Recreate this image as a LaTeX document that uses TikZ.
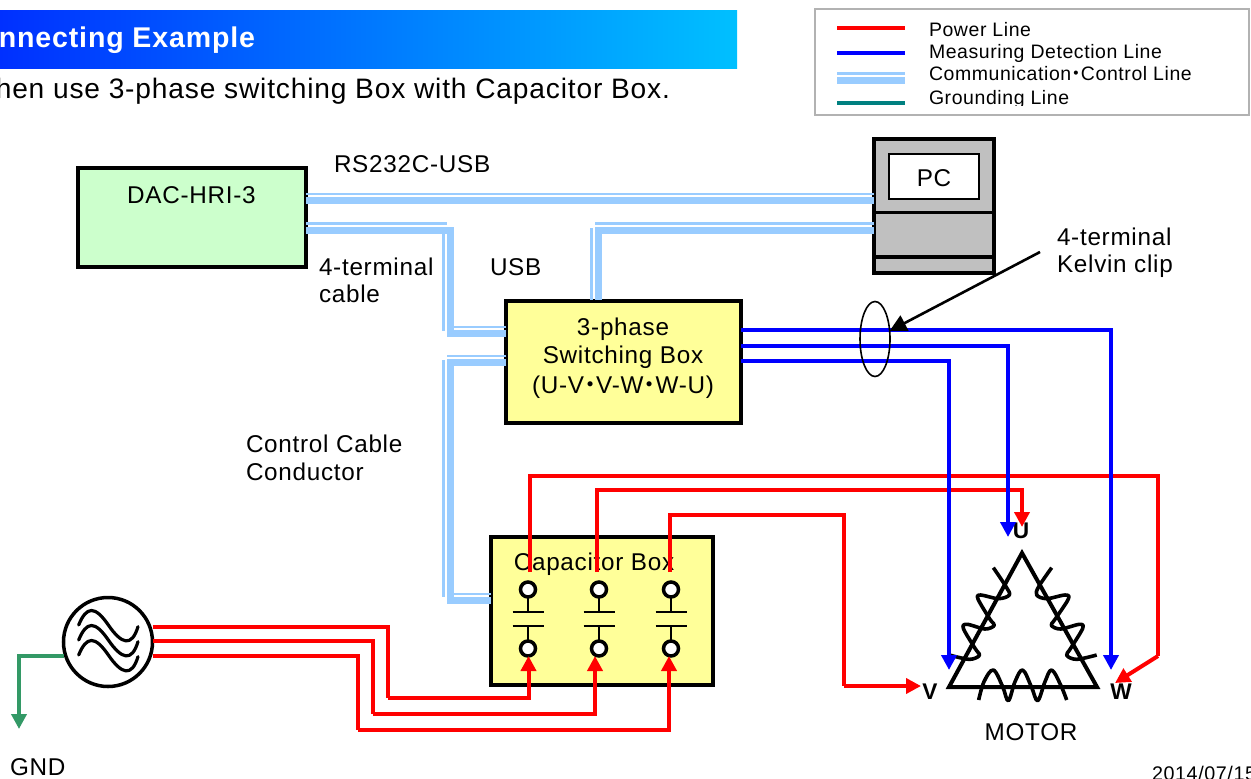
\documentclass[tikz,border=0pt]{standalone}
\usepackage{fontspec}
\setmainfont[LetterSpace=3]{Liberation Sans}
\newfontfamily\cjkdot{Noto Sans CJK JP}
\usetikzlibrary{arrows.meta,calc,shapes.geometric}
\def\px{0.75pt}
\newcommand{\mdot}{{\cjkdot\bfseries ･}}
\definecolor{comm}{HTML}{99CCFF}
\definecolor{pw}{HTML}{FF0000}
\definecolor{ms}{HTML}{0000FF}
\definecolor{gndc}{HTML}{339966}
\definecolor{tealc}{HTML}{008080}
\definecolor{headL}{HTML}{0030FF}
\definecolor{headR}{HTML}{00C0FF}
\definecolor{dacg}{HTML}{CCFFCC}
\definecolor{boxy}{HTML}{FFFF99}
\definecolor{pcg}{HTML}{C0C0C0}
\tikzset{
 boxn/.style={draw=black,line width=3.5*\px,inner sep=0pt,outer sep=0pt,rectangle},
 txt/.style={inner sep=0pt,outer sep=0pt,font=\fontsize{18.2pt}{21pt}\selectfont,text=black},
 legendt/.style={inner sep=0pt,outer sep=0pt,anchor=west,font=\fontsize{14.6pt}{17pt}\selectfont},
 power/.style={draw=pw,line width=4*\px,line join=miter},
 measure/.style={draw=ms,line width=4*\px},
 powerarrow/.style={power,-{Triangle[length=15*\px,width=15*\px]}},
 measarrow/.style={measure,-{Triangle[length=15*\px,width=15*\px]}},
 thickc/.style={draw=comm,line width=7*\px},
 thinc/.style={draw=comm,line width=2.5*\px},
 termn/.style={circle,draw=black,fill=white,line width=3.5*\px,minimum size=15*\px,inner sep=0pt,outer sep=0pt},
 wire/.style={draw=black,line width=1.6*\px},
 coil/.style={draw=black,line width=3.6*\px,line join=round},
}
\begin{document}
\begin{tikzpicture}[x=0.75pt,y=-0.75pt]
\useasboundingbox (0,0) rectangle (1251,778);
\fill[white] (0,0) rectangle (1251,778);
% header
\shade[left color=headL,right color=headR] (0,10) rectangle (737,68);
\node[txt,anchor=east,font=\fontsize{21.4pt}{24pt}\selectfont\bfseries,text=white] (head) at (255,40) {nnecting Example};
\node[txt,anchor=east,font=\fontsize{21.1pt}{25pt}\selectfont] (sub) at (670,91) {hen use 3-phase switching Box with Capacitor Box.};
% legend
\node[draw=black!30,line width=1.3*\px,minimum width=434*\px,minimum height=106*\px,inner sep=0pt,outer sep=0pt] (legend) at (1032,62) {};
\coordinate (la) at (837,28); \coordinate (lb) at (905,28);
\draw[draw=pw,line width=3.5*\px] (la) -- (lb);
\draw[draw=ms,line width=3.5*\px] (837,53) coordinate (lc) -- (905,53) coordinate (ld);
\draw[thinc] (837,73.5) coordinate (le) -- (905,73.5) coordinate (lf);
\draw[thickc] (837,80.5) coordinate (lg) -- (905,80.5) coordinate (lh);
\draw[draw=tealc,line width=3.5*\px] (837,103) coordinate (li) -- (905,103) coordinate (lj);
\node[legendt] (l1) at (929,29.5) {Power Line};
\node[legendt] (l2) at (929,53) {Measuring Detection Line};
\node[legendt] (l3) at (929,74) {Communication\mdot Control Line};
\begin{scope}
\clip (920,84) rectangle (1240,105.5);
\node[legendt] (l4) at (929,99.5) {Grounding Line};
\end{scope}
% boxes
\node[boxn,fill=dacg,minimum width=228*\px,minimum height=99*\px] (dac) at (192,217.5) {};
\node[txt] (dact) at (191.5,195.5) {DAC-HRI-3};
\node[boxn,fill=boxy,minimum width=235*\px,minimum height=122*\px] (sw) at (623.5,362) {};
\node[txt] (swa) at (623,329) {3-phase};
\node[txt] (swb) at (623,357) {Switching Box};
\node[txt] (swc) at (623,387) {(U-V\mdot V-W\mdot W-U)};
\node[boxn,fill=boxy,minimum width=222*\px,minimum height=148*\px] (cap) at (602,611) {};
\node[txt] (capt) at (594,564) {Capacitor Box};
\node[boxn,fill=pcg,minimum width=120*\px,minimum height=134*\px] (pc) at (934,206) {};
\node[draw=black,line width=2*\px,fill=white,minimum width=90*\px,minimum height=45*\px,inner sep=0pt,outer sep=0pt] (scr) at (934,176.5) {};
\node[txt] (pct) at (934,178.5) {PC};
\draw[draw=black,line width=3.5*\px] (pc.west |- 0,212.5) -- (pc.east |- 0,212.5);
\draw[draw=black,line width=3.5*\px] (pc.west |- 0,257) -- (pc.east |- 0,257);
% communication lines
\draw[thinc] (dac.east |- 0,194) -- (pc.west |- 0,194);
\draw[thickc] (dac.east |- 0,200.5) -- (pc.west |- 0,200.5);
\draw[thickc] (dac.east |- 0,230) -- (450,230) -- (450,333) -- (sw.west |- 0,333);
\draw[thinc] (dac.east |- 0,223.5) -- (447,223.5);
\draw[thinc] (443.5,233) -- (443.5,331);
\draw[thinc] (453,327) -- (sw.west |- 0,327);
\draw[thickc] (pc.west |- 0,230) -- (598,230) -- (598,300);
\draw[thinc] (pc.west |- 0,223.5) -- (595,223.5);
\draw[thinc] (591.5,228) -- (591.5,300);
\draw[thickc] (sw.west |- 0,362.5) -- (450,362.5) -- (450,600) -- (cap.west |- 0,600);
\draw[thinc] (sw.west |- 0,356) -- (447,356);
\draw[thinc] (443.5,360) -- (443.5,597);
\draw[thinc] (453,594) -- (cap.west |- 0,594);
% capacitors
\foreach \n/\x in {1/528,2/599,3/671}{
  \node[termn] (tt\n) at (\x,589.5) {};
  \node[termn] (tb\n) at (\x,648.5) {};
  \coordinate (pa\n) at (\x,612);
  \coordinate (pb\n) at (\x,626);
  \draw[wire] (tt\n) -- (pa\n);
  \draw[wire] (tb\n) -- (pb\n);
  \draw[wire] ($(pa\n)+(-15.5,0)$) -- ($(pa\n)+(15.5,0)$);
  \draw[wire] ($(pb\n)+(-15.5,0)$) -- ($(pb\n)+(15.5,0)$);
}
% source
\node[circle,draw=black,fill=white,line width=3.5*\px,minimum size=89*\px,inner sep=0pt,outer sep=0pt] (src) at (108,642) {};
\begin{scope}[shift={(0,590)},x=0.25pt,y=-0.25pt]
\foreach \d in {0,45,90}{
 \draw[coil,line width=3.2*\px,line cap=round] (236,{105+\d}) .. controls (260,{47+\d}) and (285,{47+\d}) .. (325,{105+\d}) .. controls (365,{163+\d}) and (395,{172+\d}) .. (414,{110+\d});
}
\end{scope}
% ground
\draw[draw=gndc,line width=4*\px,-{Triangle[length=15*\px,width=15*\px]}] (src.west |- 0,656) -- (19,656) -- (19,729) coordinate (gnd);
\node[txt,anchor=west] (gndt) at (10,767) {GND};
% power: source to capacitor
\draw[power] (src.east |- 0,627) -- (388,627) -- (388,698);
\draw[powerarrow] (388,698) -- (528.5,698) -- (tb1.south -| 528.5,0);
\draw[power] (src.east |- 0,641) -- (373,641) -- (373,714);
\draw[powerarrow] (373,714) -- (595,714) -- (tb2.south -| 595,0);
\draw[power] (src.east |- 0,656) -- (358,656) -- (358,729.5);
\draw[powerarrow] (358,729.5) -- (669,729.5) -- (tb3.south -| 669,0);
% motor
\coordinate (mA) at (1022,553);
\coordinate (mB) at (949,687);
\coordinate (mC) at (1097,687);
\draw[draw=black,line width=4*\px,line join=miter] (mB) -- (mA) -- (mC) -- cycle;
\begin{scope}[shift={(820,500)},x=0.25pt,y=-0.25pt]
\draw[coil] plot[smooth,tension=0.55] coordinates {(520,203) (558,260) (568,285) (535,296) (482,285) (474,297) (510,358) (523,376) (495,387) (442,373) (430,385) (465,445) (478,466) (448,478) (388,465)};
\draw[coil] plot[smooth,tension=0.55] coordinates {(695,203) (656,260) (650,285) (680,296) (735,285) (745,297) (705,358) (694,376) (722,387) (778,373) (788,385) (752,445) (740,466) (770,478) (830,465)};
\draw[coil] plot[smooth,tension=0.6] coordinates {(476,600) (492,545) (520,510) (548,560) (565,602) (585,545) (608,510) (634,560) (653,602) (675,545) (695,510) (722,555) (740,600)};
\end{scope}
\node[txt,font=\fontsize{17pt}{20pt}\selectfont\bfseries] (mU) at (1021,531) {U};
\node[txt,font=\fontsize{17pt}{20pt}\selectfont\bfseries] (mV) at (930,692) {V};
\node[txt,font=\fontsize{17pt}{20pt}\selectfont\bfseries] (mW) at (1121,692) {W};
\node[txt] (mt) at (1031,732) {MOTOR};
% power: capacitor to motor
\draw[power] (tt1.north -| 529.5,0) ++(0,-10) -- (529.5,476) -- (1158,476) -- (1158,656);
\draw[powerarrow] (1158,656) -- (1115,683);
\draw[powerarrow] (tt2.north -| 597,0) ++(0,-10) -- (597,490) -- (1022,490) -- (1022,527);
\draw[power] (tt3.north -| 670,0) ++(0,-10) -- (670,515) -- (844,515) -- (844,686);
\draw[powerarrow] (844,686) -- (921,686);
% measurement
\draw[measarrow] (sw.east |- 0,330) -- (1111,330) -- (1111,670);
\draw[measarrow] (sw.east |- 0,346) -- (1008,346) -- (1008,537);
\draw[measarrow] (sw.east |- 0,360.5) -- (949,360.5) -- (949,670);
% kelvin
\node[draw=black,ellipse,line width=1.6*\px,minimum width=30*\px,minimum height=75*\px,inner sep=0pt,outer sep=0pt] (clip) at (875,339) {};
\coordinate (kstart) at (1040,252);
\draw[draw=black,line width=2.6*\px,-{Triangle[length=17*\px,width=17*\px]}] (kstart) -- (889.5,331);
% labels
\node[txt,anchor=west] (rs) at (334,164) {RS232C-USB};
\node[txt,anchor=west] (ft) at (319,267) {4-terminal};
\node[txt,anchor=west] (ftb) at (319,294) {cable};
\node[txt,anchor=west] (usb) at (490,267) {USB};
\node[txt,anchor=west] (cc) at (246,444) {Control Cable};
\node[txt,anchor=west] (ccb) at (246,472) {Conductor};
\node[txt,anchor=west] (kt) at (1057,237) {4-terminal};
\node[txt,anchor=west] (ktb) at (1057,266) {Kelvin clip};
\node[txt,anchor=west,font=\fontsize{14.8pt}{17pt}\selectfont] (date) at (1152,773) {2014/07/15};
\end{tikzpicture}
\end{document}
